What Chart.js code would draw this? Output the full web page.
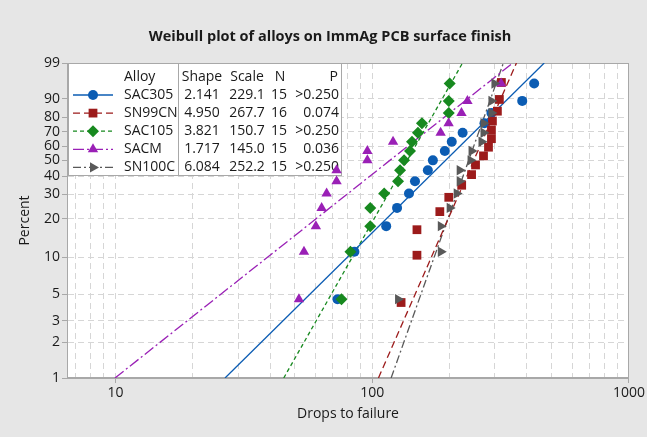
<!DOCTYPE html>
<html>
<head>
<meta charset="utf-8">
<script src="https://cdn.jsdelivr.net/npm/chart.js@4.4.1/dist/chart.umd.min.js"></script>
<style>
html,body{margin:0;padding:0;background:#e6e6e6;}
canvas{display:block;}
</style>
</head>
<body>
<canvas id="c" width="647" height="437"></canvas>
<script>
// legend table
var alloys=['SAC305','SN99CN','SAC105','SACM','SN100C'];
var shapes=['2.141','4.950','3.821','1.717','6.084'];
var scaleVals=['229.1','267.7','150.7','145.0','252.2'];
var nVals=['15','16','15','15','15'];
var pVals=['>0.250','0.074','>0.250','0.036','>0.250'];

// plotting positions (percent)
var pct15=[4.55,11.04,17.53,24.03,30.52,37.01,43.51,50.0,56.49,62.99,69.48,75.97,82.47,88.96,95.45];
var pct16=[4.27,10.37,16.46,22.56,28.66,34.76,40.85,46.95,53.05,59.15,65.24,71.34,77.44,83.54,89.63,95.73];

// drops to failure
var dropsSAC305=[73.2,85.2,113.3,124.9,139.0,146.7,164.6,172.2,191.7,204.0,224.9,273.6,291.2,383.8,427.2];
var dropsSN99CN=[129.5,149.3,149.3,183.3,198.6,223.0,243.7,252.5,271.2,283.6,291.2,291.2,293.8,307.2,312.7,318.4];
var dropsSAC105=[75.9,82.2,98.2,98.2,111.3,126.0,128.3,133.0,140.3,142.8,150.6,156.1,198.6,198.6,200.3];
var dropsSACM=[51.8,54.2,60.3,63.5,66.4,72.6,72.6,95.7,95.7,120.5,184.6,198.3,222.6,234.8,317.7];
var dropsSN100C=[126.0,184.9,184.9,200.3,213.2,219.0,219.0,241.5,243.7,266.4,271.2,271.2,291.2,291.2,299.1];

// fitted lines: drops at 1% and 99%
var fitPct=[1,99];
var fitSAC305=[26.7,467.5];
var fitSN99CN=[105.7,364.4];
var fitSAC105=[45.2,224.7];
var fitSACM=[9.95,352.8];
var fitSN100C=[118.4,324.2];

var xTicks=[7,8,9,10,20,30,40,50,60,70,80,90,100,200,300,400,500,600,700,800,900,1000];
var xLabels=[10,100,1000];
var yTicks=[1,2,3,5,10,20,30,40,50,60,70,80,90,99];

var TITLE='Weibull plot of alloys on ImmAg PCB surface finish';
var COLORS=['#0b5cb3','#9c1b1b','#17891f','#9a20b6','#595959'];
var STYLES=['circle','rect','rectRot','triangle','triangle'];
var ROT=[0,0,0,0,90];
var RADII=[5,6.2,6,6,6];
var DASH=[[],[7,4],[4,3],[11,3,2,3],[8,3,2,3]];

function wb(p){return Math.log(-Math.log(1-p/100));}

class WeibullScale extends Chart.Scale{
    determineDataLimits(){this.min=this.options.min;this.max=this.options.max;}
    buildTicks(){return yTicks.map(function(v){return {value:v};});}
    getLabelForValue(v){return String(v);}
    configure(){super.configure();this._lo=wb(this.min);this._hi=wb(this.max);}
    getPixelForValue(v){return this.getPixelForDecimal((wb(v)-this._lo)/(this._hi-this._lo));}
    getValueForPixel(px){var t=this._lo+this.getDecimalForPixel(px)*(this._hi-this._lo);return 100*(1-Math.exp(-Math.exp(t)));}
}
WeibullScale.id='weibull';
WeibullScale.defaults={};
Chart.register(WeibullScale);

function pts(xs,ps){return xs.map(function(x,i){return {x:x,y:ps[i]};});}

var drops=[dropsSAC305,dropsSN99CN,dropsSAC105,dropsSACM,dropsSN100C];
var pcts=[pct15,pct16,pct15,pct15,pct15];
var fits=[fitSAC305,fitSN99CN,fitSAC105,fitSACM,fitSN100C];

var datasets=[];
alloys.forEach(function(a,i){
    datasets.push({type:'line',label:a+' fit',data:pts(fits[i],fitPct),borderColor:COLORS[i],borderWidth:1.3,borderDash:DASH[i],pointRadius:0,fill:false,order:20});
});
alloys.forEach(function(a,i){
    datasets.push({type:'scatter',label:a,data:pts(drops[i],pcts[i]),backgroundColor:COLORS[i],borderColor:COLORS[i],borderWidth:0,pointStyle:STYLES[i],rotation:ROT[i],pointRadius:RADII[i],order:10-i});
});

var FONT='"Open Sans", "Noto Sans", sans-serif';

var frame={
    id:'frame',
    beforeDraw:function(chart){
        var c=chart.ctx,a=chart.chartArea;
        c.save();
        c.fillStyle='#e6e6e6';c.fillRect(0,0,chart.width,chart.height);
        c.fillStyle='#ffffff';c.fillRect(a.left,a.top,a.right-a.left,a.bottom-a.top);
        c.font='bold 14.5px '+FONT;c.fillStyle='#1a1a1a';c.textAlign='center';c.textBaseline='middle';
        c.fillText(TITLE,330,37);
        c.restore();
    },
    beforeDatasetsDraw:function(chart){
        var c=chart.ctx,a=chart.chartArea;
        c.save();
        c.strokeStyle='#a8a8a8';c.lineWidth=1;
        c.strokeRect(Math.round(a.left)+0.5,Math.round(a.top)+0.5,Math.round(a.right-a.left)-1,Math.round(a.bottom-a.top)-1);
        // legend box
        var bx=68.5,by=63.5,bw=273,bh=112;
        c.fillStyle='#ffffff';c.fillRect(bx,by,bw,bh);
        c.strokeStyle='#a8a8a8';c.strokeRect(bx,by,bw,bh);
        c.beginPath();c.moveTo(178.5,by);c.lineTo(178.5,by+bh);c.stroke();
        c.font='14px '+FONT;c.fillStyle='#1a1a1a';c.textBaseline='middle';
        c.textAlign='left';c.fillText('Alloy',124,77);
        c.textAlign='center';c.fillText('Shape',202,77);c.fillText('Scale',247,77);c.fillText('N',280,77);
        c.textAlign='right';c.fillText('P',338,77);
        alloys.forEach(function(a,i){
            var y=95+i*18.1;
            c.save();
            c.strokeStyle=COLORS[i];c.lineWidth=1.3;c.setLineDash(DASH[i]);
            c.beginPath();c.moveTo(73,y);c.lineTo(113,y);c.stroke();
            c.restore();
            c.fillStyle=COLORS[i];
            Chart.helpers.drawPoint(c,{pointStyle:STYLES[i],rotation:ROT[i],radius:RADII[i],borderWidth:0},93,y);
            c.fillStyle='#1a1a1a';
            c.textAlign='left';c.fillText(a,124,y);
            c.textAlign='center';c.fillText(shapes[i],202,y);c.fillText(scaleVals[i],247,y);c.fillText(nVals[i],279,y);
            c.textAlign='right';c.fillText(pVals[i],339,y);
        });
        c.restore();
    }
};

new Chart(document.getElementById('c'),{
    data:{datasets:datasets},
    options:{
        responsive:false,animation:false,devicePixelRatio:1,
        layout:{padding:{left:0,right:15,top:63,bottom:0}},
        plugins:{legend:{display:false},tooltip:{enabled:false},title:{display:false}},
        scales:{
            x:{type:'logarithmic',min:6.47,max:1000,
                afterBuildTicks:function(s){s.ticks=xTicks.map(function(v){return {value:v};});},
                afterFit:function(s){s.height=59;},
                ticks:{autoSkip:false,maxRotation:0,padding:2,color:'#1a1a1a',font:{family:FONT,size:14},
                    callback:function(v){return xLabels.indexOf(v)>=0?String(v):'';}},
                grid:{color:'#d6d6d6',tickLength:5,tickColor:function(ctx){return ctx.tick&&xLabels.indexOf(ctx.tick.value)>=0?'#a8a8a8':'rgba(0,0,0,0)';}},
                border:{display:true,color:'#a8a8a8',dash:[6,4]},
                title:{display:true,text:'Drops to failure',color:'#1a1a1a',font:{family:FONT,size:14},padding:{top:0,bottom:15}}
            },
            y:{type:'weibull',min:1,max:99,position:'left',
                afterFit:function(s){s.width=67;},
                ticks:{padding:2,color:'#1a1a1a',font:{family:FONT,size:14},callback:function(v){return String(v);}},
                grid:{color:'#d6d6d6',tickLength:5,tickColor:'#a8a8a8'},
                border:{display:true,color:'#a8a8a8',dash:[6,4]},
                title:{display:true,text:'Percent',color:'#1a1a1a',font:{family:FONT,size:14},padding:{top:17,bottom:0}}
            }
        }
    },
    plugins:[frame]
});
</script>
</body>
</html>
